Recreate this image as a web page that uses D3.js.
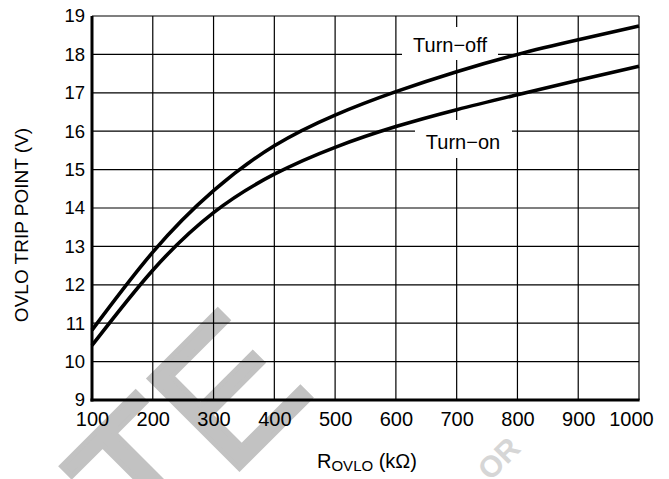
<!DOCTYPE html>
<html>
<head>
<meta charset="utf-8">
<script src="https://cdn.jsdelivr.net/npm/d3@7"></script>
<style>
  html, body { margin: 0; padding: 0; background: #fff; }
  svg { display: block; font-family: "Liberation Sans", Arial, Helvetica, sans-serif; }
</style>
</head>
<body>
<svg id="chart" width="669" height="479"></svg>
<script>
// ---- data ----
const rValues = [100, 200, 300, 400, 500, 600, 700, 800, 900, 1000];
const turnOff = [10.82, 12.85, 14.45, 15.62, 16.42, 17.03, 17.55, 18.0, 18.38, 18.74];
const turnOn  = [10.42, 12.38, 13.88, 14.88, 15.58, 16.12, 16.56, 16.95, 17.33, 17.69];
const xTicks = [100, 200, 300, 400, 500, 600, 700, 800, 900, 1000];
const yTicks = [9, 10, 11, 12, 13, 14, 15, 16, 17, 18, 19];
const seriesLabels = ["Turn\u2212off", "Turn\u2212on"];

// ---- layout ----
const svg = d3.select("#chart");
const pLeft = 92, pRight = 639, pTop = 16, pBottom = 400;
const x = d3.scaleLinear().domain([100, 1000]).range([pLeft, pRight]);
const y = d3.scaleLinear().domain([9, 19]).range([pBottom, pTop]);

// ---- watermark (behind everything) ----
const wm = svg.append("g");
wm.append("text")
  .attr("transform", "translate(316,392) rotate(-45)")
  .attr("text-anchor", "end")
  .attr("font-size", 185)
  .attr("fill", "#c2c2c2")
  .attr("stroke", "#c2c2c2")
  .attr("stroke-width", 5)
  .text("TE");
wm.append("text")
  .attr("transform", "translate(522,450) rotate(-45)")
  .attr("text-anchor", "end")
  .attr("font-size", 30)
  .attr("font-weight", "bold")
  .attr("fill", "#d6d6d6")
  .text("OR");

// ---- grid ----
const grid = svg.append("g").attr("stroke", "#000").attr("stroke-width", 1.2);
grid.selectAll("line.v").data(xTicks).join("line")
  .attr("x1", d => x(d)).attr("x2", d => x(d))
  .attr("y1", pTop).attr("y2", pBottom);
grid.selectAll("line.h").data(yTicks).join("line")
  .attr("x1", pLeft).attr("x2", pRight)
  .attr("y1", d => y(d)).attr("y2", d => y(d));

// label boxes hiding grid
const boxes = [
  {x0: 402, x1: 498, y0: 27, y1: 60},
  {x0: 415, x1: 512, y0: 120, y1: 158}
];
svg.append("g").selectAll("rect").data(boxes).join("rect")
  .attr("x", d => d.x0).attr("y", d => d.y0)
  .attr("width", d => d.x1 - d.x0).attr("height", d => d.y1 - d.y0)
  .attr("fill", "#fff");

// ---- axes lines (thick left & bottom) ----
svg.append("line").attr("x1", pLeft).attr("x2", pLeft).attr("y1", pTop).attr("y2", pBottom + 1.5)
  .attr("stroke", "#000").attr("stroke-width", 3);
svg.append("line").attr("x1", pLeft - 1.5).attr("x2", pRight + 0.6).attr("y1", pBottom).attr("y2", pBottom)
  .attr("stroke", "#000").attr("stroke-width", 3);

// ---- curves ----
const line = d3.line().x((d, i) => x(rValues[i])).y(d => y(d)).curve(d3.curveNatural);
[turnOff, turnOn].forEach(s => {
  svg.append("path").datum(s).attr("d", line)
    .attr("fill", "none").attr("stroke", "#000").attr("stroke-width", 3.6)
    .attr("stroke-linejoin", "round");
});

// ---- tick labels via axes ----
const xAxis = svg.append("g").attr("transform", `translate(0,${pBottom})`)
  .call(d3.axisBottom(x).tickValues(xTicks).tickSize(0).tickPadding(12).tickFormat(d3.format("d")));
xAxis.select(".domain").remove();
xAxis.selectAll("text").attr("font-size", 20).attr("fill", "#000")
  .attr("font-family", "Liberation Sans, Arial, sans-serif")
  .attr("dx", d => d === 1000 ? -8 : 0);

const yAxis = svg.append("g").attr("transform", `translate(${pLeft},0)`)
  .call(d3.axisLeft(y).tickValues(yTicks).tickSize(0).tickPadding(7).tickFormat(d3.format("d")));
yAxis.select(".domain").remove();
yAxis.selectAll("text").attr("font-size", 18.5).attr("fill", "#000")
  .attr("font-family", "Liberation Sans, Arial, sans-serif");

// ---- series labels ----
svg.append("text").attr("x", 450).attr("y", 52).attr("text-anchor", "middle")
  .attr("font-size", 20).text(seriesLabels[0]);
svg.append("text").attr("x", 463).attr("y", 149).attr("text-anchor", "middle")
  .attr("font-size", 20).text(seriesLabels[1]);

// ---- axis titles ----
const xt = svg.append("text").attr("x", 317).attr("y", 468).attr("font-size", 20);
xt.append("tspan").text("R");
xt.append("tspan").attr("font-size", 15).attr("dy", 3).text("OVLO");
xt.append("tspan").attr("dy", -3).text(" (k\u03A9)");

svg.append("text")
  .attr("transform", "translate(28,225) rotate(-90)")
  .attr("text-anchor", "middle")
  .attr("font-size", 19)
  .text("OVLO TRIP POINT (V)");
</script>
</body>
</html>
